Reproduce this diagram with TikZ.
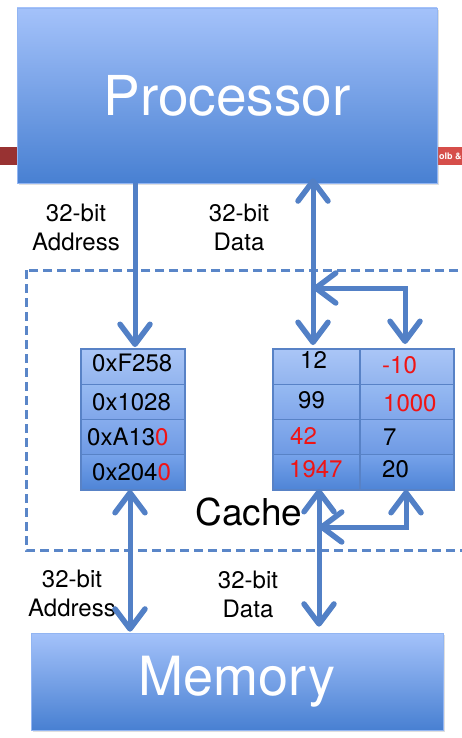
\documentclass[tikz,border=0pt]{standalone}
\usepackage{fontspec}
\setmainfont{TeX Gyre Heros}
\usetikzlibrary{arrows.meta,shadows}
\definecolor{busblue}{RGB}{82,128,198}
\definecolor{dashblue}{RGB}{90,134,200}
\definecolor{boxtop}{RGB}{164,194,250}
\definecolor{boxbot}{RGB}{72,128,210}
\definecolor{darkband}{RGB}{152,50,50}
\definecolor{lightband}{RGB}{214,78,74}
\definecolor{numred}{RGB}{240,20,20}
\definecolor{ra}{RGB}{170,198,247}\definecolor{rb}{RGB}{146,180,238}
\definecolor{rc}{RGB}{150,186,242}\definecolor{rd}{RGB}{128,166,234}
\definecolor{re}{RGB}{134,172,237}\definecolor{rf}{RGB}{110,154,228}
\definecolor{rg}{RGB}{118,162,234}\definecolor{rh}{RGB}{78,132,214}
\definecolor{cellline}{RGB}{88,130,198}
\tikzset{
  bigbox/.style={rectangle, inner sep=0pt, top color=boxtop, bottom color=boxbot,
    draw=boxtop!80!boxbot, line width=0.6pt, text=white,
    drop shadow={opacity=0.25, shadow xshift=1.5pt, shadow yshift=-2pt}},
  cellbox/.style={rectangle, inner sep=0pt, draw=cellline, line width=1.3pt},
  cellrow1/.style={cellbox, top color=ra, bottom color=rb},
  cellrow2/.style={cellbox, top color=rc, bottom color=rd},
  cellrow3/.style={cellbox, top color=re, bottom color=rf},
  cellrow4/.style={cellbox, top color=rg, bottom color=rh},
  celltext/.style={inner sep=0pt, anchor=base west, font=\fontsize{24}{29}\selectfont},
  buslabel/.style={inner sep=0pt, anchor=north, align=center, font=\fontsize{24}{29}\selectfont},
  bus/.style={draw=busblue, line width=5pt, line cap=butt,
    arrows={-Straight Barb[length=20pt,width=30pt,line width=5.5pt,round]}},
  bus2/.style={bus, arrows={Straight Barb[length=20pt,width=30pt,line width=5.5pt,round]-Straight Barb[length=20pt,width=30pt,line width=5.5pt,round]}},
}
\newcommand{\rd}[1]{\textcolor{numred}{#1}}
\begin{document}
\begin{tikzpicture}[x=1pt,y=-1pt]
\useasboundingbox (0,0) rectangle (462,738);
\fill[white] (0,0) rectangle (462,738);
% red band behind processor
\fill[darkband] (0,147) rectangle (17,165);
\fill[lightband] (437,147) rectangle (462,165);
\node[inner sep=0pt, anchor=west, text=white, font=\bfseries\fontsize{9}{11}\selectfont] (band) at (439,156.5) {olb \&};
% processor and memory
\node[bigbox, minimum width=420pt, minimum height=175pt, font=\fontsize{55}{60}\selectfont] (proc) at (227,95.5) {Processor};
\node[bigbox, minimum width=412pt, minimum height=97pt, font=\fontsize{54}{60}\selectfont] (mem) at (237,681.5) {Memory};
% cache dashed box
\draw[dashblue, line width=3pt, dash pattern=on 9pt off 5pt] (26,270) rectangle (480,550);
\node[inner sep=0pt, anchor=base, font=\fontsize{37}{40}\selectfont] (cachelbl) at (249,525) {Cache};
% tag cells
\node[cellrow1, minimum width=104pt, minimum height=35.25pt] (t1) at (133,366.6) {};
\node[cellrow2, minimum width=104pt, minimum height=35.25pt] (t2) at (133,401.9) {};
\node[cellrow3, minimum width=104pt, minimum height=35.25pt] (t3) at (133,437.1) {};
\node[cellrow4, minimum width=104pt, minimum height=35.25pt] (t4) at (133,472.4) {};
\node[celltext] (tt1) at (92,371) {0xF258};
\node[celltext] (tt2) at (92,410) {0x1028};
\node[celltext] (tt3) at (87,445) {0xA13\rd{0}};
\node[celltext] (tt4) at (92,480) {0x204\rd{0}};
% data cells
\node[cellrow1, minimum width=87pt, minimum height=35.25pt] (a1) at (316.5,366.6) {};
\node[cellrow2, minimum width=87pt, minimum height=35.25pt] (a2) at (316.5,401.9) {};
\node[cellrow3, minimum width=87pt, minimum height=35.25pt] (a3) at (316.5,437.1) {};
\node[cellrow4, minimum width=87pt, minimum height=35.25pt] (a4) at (316.5,472.4) {};
\node[cellrow1, minimum width=94pt, minimum height=35.25pt] (b1) at (407,366.6) {};
\node[cellrow2, minimum width=94pt, minimum height=35.25pt] (b2) at (407,401.9) {};
\node[cellrow3, minimum width=94pt, minimum height=35.25pt] (b3) at (407,437.1) {};
\node[cellrow4, minimum width=94pt, minimum height=35.25pt] (b4) at (407,472.4) {};
\node[celltext] (at1) at (300,368) {12};
\node[celltext] (at2) at (298,408) {99};
\node[celltext] (at3) at (290,444) {\rd{42}};
\node[celltext] (at4) at (289,477) {\rd{1947}};
\node[celltext] (bt1) at (382,373) {\rd{-10}};
\node[celltext] (bt2) at (383,411) {\rd{1000}};
\node[celltext] (bt3) at (383,445) {7};
\node[celltext] (bt4) at (382,477) {20};
% labels
\node[buslabel] (l1) at (76,204) {32-bit\\Address};
\node[buslabel] (l2) at (239,204) {32-bit\\Data};
\node[buslabel] (l3) at (72,570) {32-bit\\Address};
\node[buslabel] (l4) at (248,571) {32-bit\\Data};
% coordinates
\coordinate (ain) at (135,347);
\coordinate (dtop) at (313,345);
\coordinate (j1) at (313,288);
\coordinate (c1) at (405,288);
\coordinate (btop) at (405,344);
\coordinate (abot) at (130,490);
\coordinate (dbot) at (319,489);
\coordinate (bbot) at (406,490);
\coordinate (c2) at (406,527);
\coordinate (j2) at (319,527);
% buses
\draw[bus] (proc.south -| ain) -- (ain);
\draw[bus2] ([yshift=5pt]proc.south -| dtop) -- (dtop);
\draw[bus2] (j1) -- (c1) -- (btop);
\draw[bus2] (abot) -- ([yshift=1pt]mem.north -| abot);
\draw[bus2] (dbot) -- ([yshift=6pt]mem.north -| dbot);
\draw[bus2] (bbot) -- (c2) -- (j2);
\end{tikzpicture}
\end{document}
